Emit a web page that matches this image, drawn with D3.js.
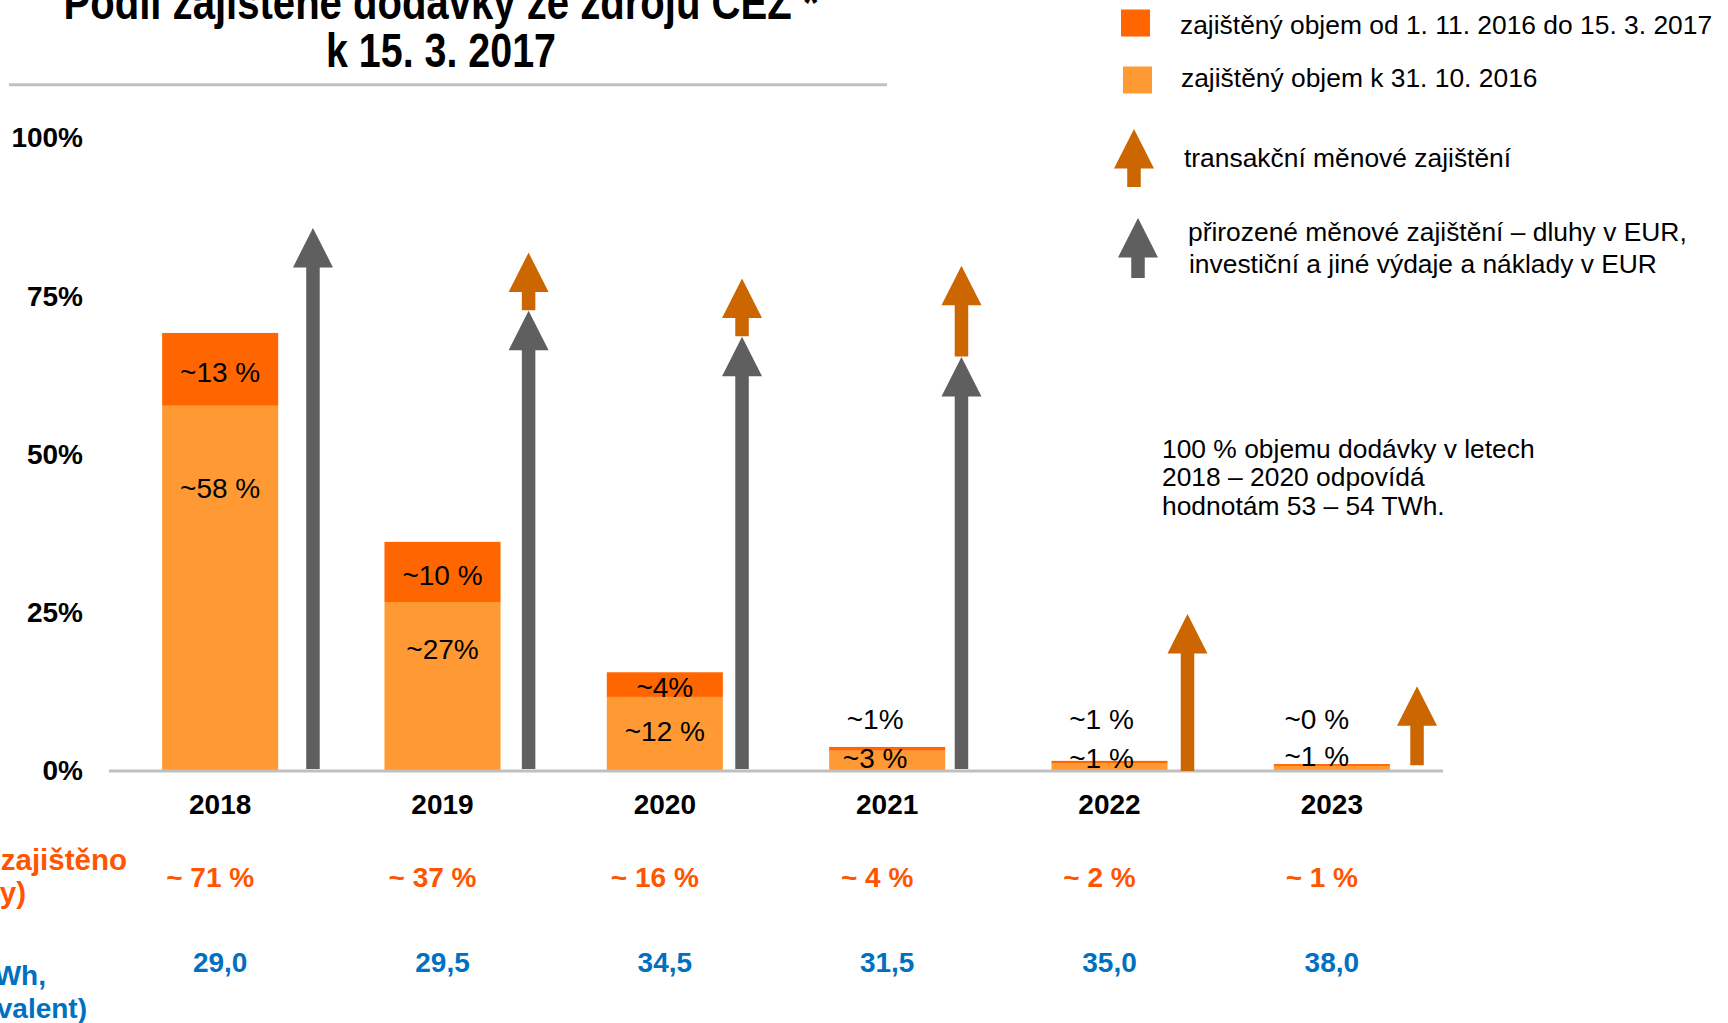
<!DOCTYPE html>
<html><head><meta charset="utf-8">
<script src="https://cdn.jsdelivr.net/npm/d3@7"></script>
<style>
html,body{margin:0;padding:0;background:#fff;overflow:hidden;}
text{font-family:"Liberation Sans",Arial,sans-serif;}
</style></head>
<body>
<svg id="chart" width="1728" height="1023"></svg>
<script>
// ---------------- DATA ----------------
const years = ["2018","2019","2020","2021","2022","2023"];
const hedgedBefore = [57.7, 26.7, 11.7, 3.2, 1.2, 0.8];      // zajištěný objem k 31. 10. 2016
const hedgedNew    = [11.5, 9.5, 3.9, 0.6, 0.4, 0.3];        // od 1. 11. 2016 do 15. 3. 2017
const hedgedNewLabels    = ["~13 %","~10 %","~4%","~1%","~1 %","~0 %"];
const hedgedBeforeLabels = ["~58 %","~27%","~12 %","~3 %","~1 %","~1 %"];
const naturalHedgeTop    = [85.8, 72.7, 68.6, 65.4, null, null];
const transactionFrom    = [null, 72.8, 68.7, 65.5, 0, 0.9];
const transactionTo      = [null, 81.9, 77.8, 79.8, 24.8, 13.4];
const totalHedged = ["~ 71 %","~ 37 %","~ 16 %","~ 4 %","~ 2 %","~ 1 %"];
const prices      = ["29,0","29,5","34,5","31,5","35,0","38,0"];
const yTicks = [0, 25, 50, 75, 100];
const titleLines = ["Podíl zajištěné dodávky ze zdrojů ČEZ *", "k 15. 3. 2017"];
const legendLabels = ["zajištěný objem od 1. 11. 2016 do 15. 3. 2017", "zajištěný objem k 31. 10. 2016",
  "transakční měnové zajištění"];
const legendNatural = ["přirozené měnové zajištění – dluhy v EUR,", "investiční a jiné výdaje a náklady v EUR"];
const noteLines = ["100 % objemu dodávky v letech", "2018 – 2020 odpovídá", "hodnotám 53 – 54 TWh."];
const rowLabelTotal = ["Celkem zajištěno", "(% dodávky)"];
const rowLabelPrice = ["Realizační cena (EUR/MWh,", "CZK ekvivalent)"];

// ---------------- LAYOUT ----------------
const C = {dark:"#FF6600", light:"#FF9933", gray:"#5F5F5F", brown:"#CC6600", rule:"#BFBFBF",
           total:"#FF5500", price:"#0070C0"};
const lightLabelAt = [44.7, 19.3, 6.3, 2.0, 2.0, 2.3];   // label anchors in % units
const smallLabelShift = [0, 0, 0, -12, -8, -15];
const arrowShift = [92.8, 86.1, 77.2, 74.3, 78, 85.2];   // px right of bar centre
const shaftW = 13.5, headW = 40, headH = 39.5;

const svg = d3.select("#chart");
const x = d3.scaleBand().domain(years).range([109, 1443]).paddingInner(0.478).paddingOuter(0.239);
const y = d3.scaleLinear().domain([0, 100]).range([771, 138]);
const cx = d => x(d) + x.bandwidth()/2;

// Title
svg.append("g").selectAll("text").data(titleLines).join("text")
  .attr("x", 441).attr("y", (d,i) => 19 + i*47.5)
  .attr("text-anchor","middle").attr("font-weight","bold").attr("font-size",48)
  .style("font-family", '"Liberation Sans Narrow","Liberation Sans",Arial,sans-serif')
  .attr("textLength", (d,i) => i === 0 ? 755 : 230).attr("lengthAdjust","spacingAndGlyphs")
  .text(d => d);
svg.append("line").attr("x1",9).attr("x2",887).attr("y1",84.7).attr("y2",84.7)
  .attr("stroke",C.rule).attr("stroke-width",3);

// Y axis
const yAxis = svg.append("g").attr("transform","translate(83,0)")
  .call(d3.axisLeft(y).tickValues(yTicks).tickSize(0).tickPadding(0).tickFormat(d => d + "%"));
yAxis.select(".domain").remove();
yAxis.selectAll("text").attr("font-size",28).attr("font-weight","bold").attr("fill","#000")
  .style("font-family",'"Liberation Sans",Arial,sans-serif');

// Bars
const stack = years.map((yr,i) => ({yr, a: hedgedBefore[i], b: hedgedNew[i], i}));
svg.append("g").selectAll("rect").data(stack).join("rect")
  .attr("x", d => x(d.yr)).attr("width", x.bandwidth())
  .attr("y", d => y(d.a)).attr("height", d => y(0) - y(d.a)).attr("fill", C.light);
svg.append("g").selectAll("rect").data(stack).join("rect")
  .attr("x", d => x(d.yr)).attr("width", x.bandwidth())
  .attr("y", d => y(d.a + d.b)).attr("height", d => y(d.a) - y(d.a + d.b)).attr("fill", C.dark);

// Baseline
svg.append("line").attr("x1", x.range()[0]).attr("x2", x.range()[1])
  .attr("y1", y(0)).attr("y2", y(0)).attr("stroke", C.rule).attr("stroke-width", 3);

// Arrows
function arrowPath(xc, yBase, yTip){
  const hb = yTip + headH, s = shaftW/2, h = headW/2;
  return `M${xc-s},${yBase}L${xc-s},${hb}L${xc-h},${hb}L${xc},${yTip}L${xc+h},${hb}L${xc+s},${hb}L${xc+s},${yBase}Z`;
}
svg.append("g").selectAll("path").data(years.filter((d,i) => naturalHedgeTop[i] != null)).join("path")
  .attr("d", d => { const i = years.indexOf(d); return arrowPath(cx(d)+arrowShift[i], y(0)-2, y(naturalHedgeTop[i])); })
  .attr("fill", C.gray);
svg.append("g").selectAll("path").data(years.filter((d,i) => transactionTo[i] != null)).join("path")
  .attr("d", d => { const i = years.indexOf(d); return arrowPath(cx(d)+arrowShift[i], y(transactionFrom[i]), y(transactionTo[i])); })
  .attr("fill", C.brown);

// Bar labels
const lab = svg.append("g").attr("font-size",28).attr("text-anchor","middle").attr("fill","#000");
lab.selectAll("text.dk").data(stack).join("text").attr("class","dk")
  .attr("x", d => cx(d.yr) + smallLabelShift[d.i])
  .attr("y", d => d.b >= 3 ? y(d.a + d.b/2) + 3 : y(8.2))
  .attr("dy","0.35em").text(d => hedgedNewLabels[d.i]);
lab.selectAll("text.lt").data(stack).join("text").attr("class","lt")
  .attr("x", d => cx(d.yr) + smallLabelShift[d.i])
  .attr("y", d => y(lightLabelAt[d.i]))
  .attr("dy","0.35em").text(d => hedgedBeforeLabels[d.i]);

// X axis labels
const xAxis = svg.append("g").attr("transform", `translate(0,${y(0)})`)
  .call(d3.axisBottom(x).tickSize(0).tickPadding(0));
xAxis.select(".domain").remove();
xAxis.selectAll("text").attr("y", 33).attr("dy","0.35em").attr("font-size",28).attr("font-weight","bold")
  .attr("fill","#000").style("font-family",'"Liberation Sans",Arial,sans-serif');

// Rows below
svg.append("g").selectAll("text").data(totalHedged).join("text")
  .attr("x", (d,i) => cx(years[i]) - 10).attr("y", 886.5).attr("text-anchor","middle")
  .attr("font-size",28).attr("font-weight","bold").attr("fill",C.total).text(d => d);
svg.append("g").selectAll("text").data(prices).join("text")
  .attr("x", (d,i) => cx(years[i])).attr("y", 971.5).attr("text-anchor","middle")
  .attr("font-size",28).attr("font-weight","bold").attr("fill",C.price).text(d => d);
svg.append("g").selectAll("text").data(rowLabelTotal).join("text")
  .attr("x", (d,i) => i === 0 ? 127 : 26).attr("y", (d,i) => 870 + i*33).attr("text-anchor","end")
  .attr("font-size",29.5).attr("font-weight","bold").attr("fill",C.total).text(d => d);
svg.append("g").selectAll("text").data(rowLabelPrice).join("text")
  .attr("x", (d,i) => i === 0 ? 46 : 87).attr("y", (d,i) => 985 + i*32.5).attr("text-anchor","end")
  .attr("font-size",28).attr("font-weight","bold").attr("fill",C.price).text(d => d);

// Legend
const lg = svg.append("g").attr("font-size",26.4).attr("fill","#000");
lg.append("rect").attr("x",1121).attr("y",9.5).attr("width",29).attr("height",27).attr("fill",C.dark);
lg.append("rect").attr("x",1123).attr("y",66.5).attr("width",29).attr("height",27).attr("fill",C.light);
lg.selectAll("text.l").data(legendLabels).join("text").attr("class","l")
  .attr("x", (d,i) => [1180,1181,1184][i]).attr("y", (d,i) => [34,87,166.5][i]).text(d => d);
lg.append("path").attr("d", arrowPath(1134, 187, 129)).attr("fill", C.brown);
lg.append("path").attr("d", arrowPath(1138, 278, 218)).attr("fill", C.gray);
lg.selectAll("text.n").data(legendNatural).join("text").attr("class","n")
  .attr("x", (d,i) => 1188 + i).attr("y", (d,i) => 241 + i*31.5).text(d => d);

// Note
svg.append("g").attr("font-size",26.4).selectAll("text").data(noteLines).join("text")
  .attr("x",1162).attr("y",(d,i) => 457.7 + i*28.7).text(d => d);
</script>
</body></html>
